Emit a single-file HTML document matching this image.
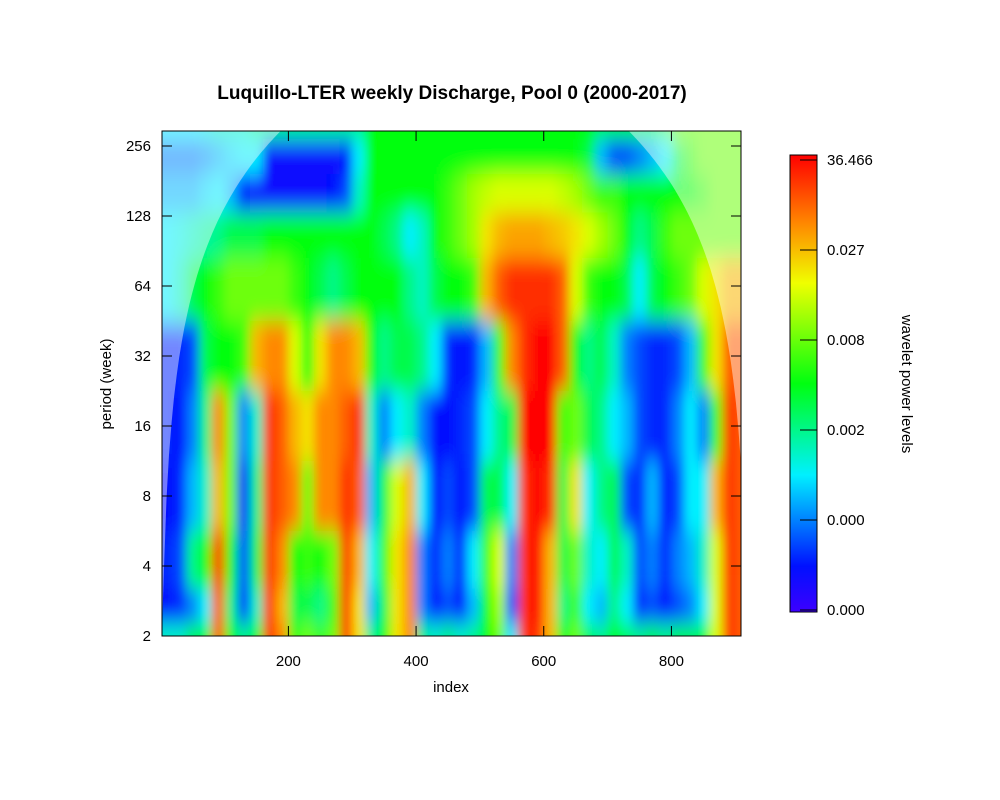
<!DOCTYPE html>
<html><head><meta charset="utf-8"><style>
body{margin:0;background:#fff;}
svg{display:block;font-family:"Liberation Sans",Arial,sans-serif;}
</style></head><body>
<svg id="chart" width="1000" height="800" viewBox="0 0 1000 800">
<defs>
<clipPath id="plotclip"><rect x="162" y="131" width="579" height="505"/></clipPath>
<filter id="soft" x="-5%" y="-5%" width="110%" height="110%"><feGaussianBlur stdDeviation="5 11" edgeMode="duplicate"/></filter>
<linearGradient id="cbgrad" x1="0" y1="1" x2="0" y2="0">
<stop offset="0" stop-color="#3c00ff"/><stop offset="0.1" stop-color="#0010ff"/><stop offset="0.3" stop-color="#00f0ff"/><stop offset="0.5" stop-color="#00ff10"/><stop offset="0.72" stop-color="#f0ff00"/><stop offset="0.85" stop-color="#ff8800"/><stop offset="1" stop-color="#ff0000"/>
</linearGradient>
</defs>
<text x="452" y="99" text-anchor="middle" font-size="19" font-weight="bold">Luquillo-LTER weekly Discharge, Pool 0 (2000-2017)</text>
<g id="heat" clip-path="url(#plotclip)"><g id="cells" filter="url(#soft)"></g></g>
<path id="coi" fill="#ffffff" fill-opacity="0.45" fill-rule="evenodd" clip-path="url(#plotclip)"/>
<rect x="162" y="131" width="579" height="505" fill="none" stroke="#000" stroke-width="1"/>
<g id="axes"></g>
<text x="451" y="692" text-anchor="middle" font-size="15">index</text>
<text transform="translate(111,384) rotate(-90)" text-anchor="middle" font-size="15">period (week)</text>
<rect x="790" y="155" width="27" height="457" fill="url(#cbgrad)" stroke="#000" stroke-width="1"/>
<g id="cbticks"></g>
<text transform="translate(902,384) rotate(90)" text-anchor="middle" font-size="15">wavelet power levels</text>
</svg>
<script>
const colIndex=[10,30,50,70,90,110,130,150,170,190,210,230,250,270,290,310,330,350,370,390,410,430,450,470,490,510,530,550,570,590,610,630,650,670,690,710,730,750,770,790,810,830,850,870,890,910];
const rowLog2=[1,1.35,2,3,4,5,6,6.8,7.3,7.9,8.3];
const p2=[.35,.35,.45,.5,.9,.5,.4,.5,.95,.85,.55,.6,.55,.6,.95,.75,.4,.5,.75,.85,.4,.35,.4,.35,.4,.5,.6,.3,.95,.95,.8,.5,.6,.45,.4,.5,.45,.4,.45,.4,.45,.45,.5,.7,.95,.9];
const p3=[.1,.12,.2,.3,.9,.4,.12,.35,.95,.8,.45,.45,.4,.55,.95,.75,.25,.45,.75,.85,.2,.1,.15,.1,.25,.5,.65,.15,.95,1,.8,.4,.55,.3,.25,.4,.3,.12,.15,.1,.15,.2,.3,.7,.95,.9];
const p4=[.12,.15,.4,.5,.95,.5,.15,.45,.95,.85,.5,.55,.5,.6,.95,.8,.3,.55,.75,.85,.2,.12,.2,.12,.3,.55,.7,.2,.95,1,.8,.45,.6,.35,.3,.45,.35,.15,.2,.12,.2,.25,.35,.7,.95,.9];
const p8=[.1,.12,.25,.35,.8,.6,.1,.4,.95,.9,.85,.6,.85,.85,.95,.9,.25,.45,.7,.8,.3,.1,.15,.1,.15,.45,.45,.3,.95,1,.95,.45,.75,.3,.4,.45,.15,.12,.25,.1,.15,.3,.3,.8,.95,.9];
const p16=[.12,.1,.2,.4,.85,.6,.2,.35,.95,.9,.8,.75,.85,.85,.9,.95,.35,.2,.3,.35,.2,.1,.1,.12,.15,.3,.4,.45,1,1,1,.55,.6,.45,.4,.3,.25,.15,.12,.12,.2,.3,.2,.55,.95,.9];
const p32=[.12,.12,.15,.45,.5,.5,.55,.8,.85,.85,.7,.5,.75,.85,.85,.8,.5,.4,.45,.45,.4,.3,.12,.1,.12,.25,.55,.85,.95,1,1,.9,.5,.4,.45,.35,.2,.15,.12,.12,.15,.25,.55,.75,.9,.9];
const p64=[.3,.35,.45,.5,.55,.6,.6,.6,.6,.6,.55,.5,.45,.4,.45,.5,.5,.5,.5,.4,.35,.45,.5,.5,.55,.8,.9,.95,.95,.95,.95,.9,.7,.55,.5,.5,.45,.3,.45,.5,.55,.6,.7,.75,.8,.8];
const p128=[.3,.32,.35,.38,.4,.45,.45,.45,.5,.5,.5,.5,.5,.5,.5,.5,.5,.45,.4,.3,.35,.5,.55,.6,.65,.75,.8,.82,.82,.82,.8,.78,.75,.7,.65,.6,.5,.4,.45,.55,.6,.6,.6,.6,.6,.6];
const p150=[.25,.25,.25,.28,.3,.25,.1,.08,.08,.08,.08,.08,.08,.1,.15,.35,.5,.5,.5,.5,.5,.5,.55,.6,.65,.68,.7,.7,.7,.7,.7,.68,.65,.6,.55,.55,.5,.5,.5,.5,.5,.5,.55,.6,.6,.6];
const p240=[.2,.2,.2,.22,.25,.28,.3,.3,.08,.08,.08,.08,.08,.08,.1,.3,.5,.5,.5,.5,.5,.5,.5,.5,.5,.5,.5,.5,.5,.5,.5,.5,.5,.45,.25,.15,.15,.2,.25,.3,.45,.55,.6,.6,.6,.6];
const p300=[.3,.3,.3,.32,.35,.35,.35,.4,.4,.4,.4,.4,.4,.4,.4,.4,.5,.5,.5,.5,.5,.5,.5,.5,.5,.5,.5,.5,.5,.5,.5,.5,.5,.5,.5,.5,.5,.5,.5,.55,.6,.6,.6,.6,.6,.6];
const rows=[p2,p3,p4,p8,p16,p32,p64,p128,p150,p240,p300];
const xTicks=[200,400,600,800];
const yTicks=[2,4,8,16,32,64,128,256];
const cbLabels=["36.466","0.027","0.008","0.002","0.000","0.000"];
const seriesN=921, colStep=20;

const NS="http://www.w3.org/2000/svg";
function xScale(i){return 162+(i-2)*(579/907);}
function yScale(l2){return 636-(l2-1)*70;}
const stops=[[0,[60,0,255]],[.1,[0,16,255]],[.3,[0,240,255]],[.5,[0,255,16]],[.72,[240,255,0]],[.85,[255,136,0]],[1,[255,0,0]]];
function color(v){v=Math.max(0,Math.min(1,v));for(let k=1;k<stops.length;k++){if(v<=stops[k][0]){const a=stops[k-1],b=stops[k],t=(v-a[0])/(b[0]-a[0]);const c=a[1].map((q,j)=>Math.round(q+(b[1][j]-q)*t));return `rgb(${c[0]},${c[1]},${c[2]})`;}}return "rgb(255,0,0)";}
const cells=document.getElementById('cells');
rows.forEach((row,r)=>{
  const lo=r===0?0.6:(rowLog2[r-1]+rowLog2[r])/2;
  const hi=r===rows.length-1?8.8:(rowLog2[r]+rowLog2[r+1])/2;
  const y1=yScale(hi),y0=yScale(lo);
  row.forEach((v,c)=>{
    const el=document.createElementNS(NS,'rect');
    const xa=xScale(colIndex[c]-colStep/2)-(c===0?20:0), xb=xScale(colIndex[c]+colStep/2)+(c===row.length-1?20:0);
    el.setAttribute('x',xa);el.setAttribute('y',y1);
    el.setAttribute('width',xb-xa+0.5);el.setAttribute('height',y0-y1);
    el.setAttribute('fill',color(v));
    
    
    cells.appendChild(el);
  });
});
let d="M150,120 H760 V650 H150 Z M";
const pts=[];
for(let i=1;i<=seriesN;i+=4){const dist=Math.max(0.5,Math.min(i,seriesN-i));const l2=1.2*Math.log2(dist)-0.85;pts.push([xScale(i),Math.max(120,Math.min(650,yScale(l2)))]);}
pts.push([xScale(seriesN),650]);
d+=xScale(1)+",650 L"+pts.map(p=>p[0].toFixed(1)+","+p[1].toFixed(1)).join(" L")+" Z";
document.getElementById('coi').setAttribute('d',d);
const axes=document.getElementById('axes');
function line(x1,y1,x2,y2,p){const l=document.createElementNS(NS,'line');l.setAttribute('x1',x1);l.setAttribute('y1',y1);l.setAttribute('x2',x2);l.setAttribute('y2',y2);l.setAttribute('stroke','#000');p.appendChild(l);return l;}
function text(x,y,s,anchor,p){const t=document.createElementNS(NS,'text');t.setAttribute('x',x);t.setAttribute('y',y);t.setAttribute('font-size','15');t.setAttribute('text-anchor',anchor);t.textContent=s;p.appendChild(t);return t;}
xTicks.forEach(v=>{const x=xScale(v);
  const a=line(x,636,x,626,axes);
  const b=line(x,131,x,141,axes);
  const t=text(x,666,String(v),'middle',axes);});
yTicks.forEach(v=>{const y=yScale(Math.log2(v));
  const a=line(162,y,172,y,axes);
  const b=line(731,y,741,y,axes);
  const t=text(151,y+5,String(v),'end',axes);});
const cbt=document.getElementById('cbticks');
cbLabels.forEach((s,k)=>{const y=160+k*90;
  const a=line(800,y,817,y,cbt);
  const t=text(827,y+5,s,'start',cbt);});
</script>
</body></html>
